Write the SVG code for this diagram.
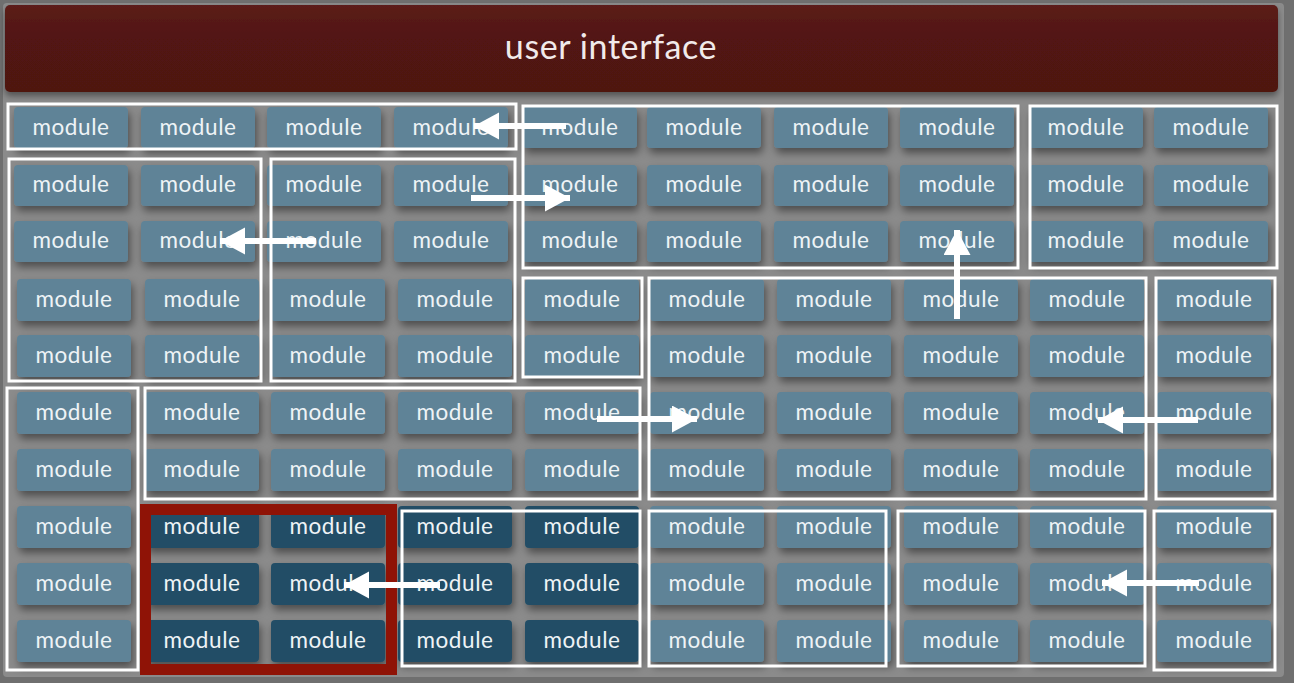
<svg xmlns="http://www.w3.org/2000/svg" width="1294" height="683" viewBox="0 0 1294 683">
<defs>
<filter id="sh" x="-20%" y="-30%" width="150%" height="190%">
<feDropShadow dx="2" dy="5" stdDeviation="4" flood-color="#000" flood-opacity="0.45"/>
</filter>
<filter id="shb" x="-5%" y="-20%" width="110%" height="160%">
<feDropShadow dx="0" dy="4" stdDeviation="3" flood-color="#000" flood-opacity="0.4"/>
</filter>
<linearGradient id="ui" x1="0" y1="0" x2="0" y2="1">
<stop offset="0" stop-color="#5c1d1a"/>
<stop offset="0.35" stop-color="#521612"/>
<stop offset="1" stop-color="#4f1511"/>
</linearGradient>
<marker id="ah" markerUnits="userSpaceOnUse" markerWidth="26" markerHeight="28" refX="25" refY="13.5" orient="auto">
<path d="M0,0 L25,13.5 L0,27 Z" fill="#fff"/>
</marker>
<style>
.m rect{rx:4px;ry:4px;filter:url(#sh)}
.lt rect{fill:#5f8397}
.dk rect{fill:#234d66}
.m text{font-family:Lato,"Noto Sans","Liberation Sans",sans-serif;font-size:22.5px;letter-spacing:0.6px;fill:#eef3f6;text-anchor:middle}
.box{fill:none;stroke:#fff;stroke-width:3}
.red{fill:none;stroke:#8f1306;stroke-width:11}
.ar{stroke:#fff;stroke-width:6;fill:none;marker-end:url(#ah)}
</style>
</defs>
<rect x="0" y="0" width="1294" height="683" fill="#6f6f6f"/>
<rect x="3" y="3" width="1281" height="674" rx="4" fill="#8b8b8b"/>
<g id="user-interface">
<rect x="5" y="5" width="1273" height="87" rx="5" fill="url(#ui)" filter="url(#shb)"/>
<text x="611" y="59" font-family="Lato,'Noto Sans','Liberation Sans',sans-serif" font-size="34" letter-spacing="0.6" fill="#f1eaea" text-anchor="middle">user interface</text>
</g>
<g id="modules">
<g id="m-r1c1" class="m lt"><rect x="14" y="107" width="114" height="41"/><text x="71" y="135">module</text></g>
<g id="m-r1c2" class="m lt"><rect x="141" y="107" width="114" height="41"/><text x="198" y="135">module</text></g>
<g id="m-r1c3" class="m lt"><rect x="267" y="107" width="114" height="41"/><text x="324" y="135">module</text></g>
<g id="m-r1c4" class="m lt"><rect x="394" y="107" width="114" height="41"/><text x="451" y="135">module</text></g>
<g id="m-r1c5" class="m lt"><rect x="523" y="107" width="114" height="41"/><text x="580" y="135">module</text></g>
<g id="m-r1c6" class="m lt"><rect x="647" y="107" width="114" height="41"/><text x="704" y="135">module</text></g>
<g id="m-r1c7" class="m lt"><rect x="774" y="107" width="114" height="41"/><text x="831" y="135">module</text></g>
<g id="m-r1c8" class="m lt"><rect x="900" y="107" width="114" height="41"/><text x="957" y="135">module</text></g>
<g id="m-r1c9" class="m lt"><rect x="1029" y="107" width="114" height="41"/><text x="1086" y="135">module</text></g>
<g id="m-r1c10" class="m lt"><rect x="1154" y="107" width="114" height="41"/><text x="1211" y="135">module</text></g>

<g id="m-r2c1" class="m lt"><rect x="14" y="165" width="114" height="41"/><text x="71" y="192">module</text></g>
<g id="m-r2c2" class="m lt"><rect x="141" y="165" width="114" height="41"/><text x="198" y="192">module</text></g>
<g id="m-r2c3" class="m lt"><rect x="267" y="165" width="114" height="41"/><text x="324" y="192">module</text></g>
<g id="m-r2c4" class="m lt"><rect x="394" y="165" width="114" height="41"/><text x="451" y="192">module</text></g>
<g id="m-r2c5" class="m lt"><rect x="523" y="165" width="114" height="41"/><text x="580" y="192">module</text></g>
<g id="m-r2c6" class="m lt"><rect x="647" y="165" width="114" height="41"/><text x="704" y="192">module</text></g>
<g id="m-r2c7" class="m lt"><rect x="774" y="165" width="114" height="41"/><text x="831" y="192">module</text></g>
<g id="m-r2c8" class="m lt"><rect x="900" y="165" width="114" height="41"/><text x="957" y="192">module</text></g>
<g id="m-r2c9" class="m lt"><rect x="1029" y="165" width="114" height="41"/><text x="1086" y="192">module</text></g>
<g id="m-r2c10" class="m lt"><rect x="1154" y="165" width="114" height="41"/><text x="1211" y="192">module</text></g>

<g id="m-r3c1" class="m lt"><rect x="14" y="221" width="114" height="41"/><text x="71" y="248">module</text></g>
<g id="m-r3c2" class="m lt"><rect x="141" y="221" width="114" height="41"/><text x="198" y="248">module</text></g>
<g id="m-r3c3" class="m lt"><rect x="267" y="221" width="114" height="41"/><text x="324" y="248">module</text></g>
<g id="m-r3c4" class="m lt"><rect x="394" y="221" width="114" height="41"/><text x="451" y="248">module</text></g>
<g id="m-r3c5" class="m lt"><rect x="523" y="221" width="114" height="41"/><text x="580" y="248">module</text></g>
<g id="m-r3c6" class="m lt"><rect x="647" y="221" width="114" height="41"/><text x="704" y="248">module</text></g>
<g id="m-r3c7" class="m lt"><rect x="774" y="221" width="114" height="41"/><text x="831" y="248">module</text></g>
<g id="m-r3c8" class="m lt"><rect x="900" y="221" width="114" height="41"/><text x="957" y="248">module</text></g>
<g id="m-r3c9" class="m lt"><rect x="1029" y="221" width="114" height="41"/><text x="1086" y="248">module</text></g>
<g id="m-r3c10" class="m lt"><rect x="1154" y="221" width="114" height="41"/><text x="1211" y="248">module</text></g>

<g id="m-r4c1" class="m lt"><rect x="17" y="279" width="114" height="42"/><text x="74" y="307">module</text></g>
<g id="m-r4c2" class="m lt"><rect x="145" y="279" width="114" height="42"/><text x="202" y="307">module</text></g>
<g id="m-r4c3" class="m lt"><rect x="271" y="279" width="114" height="42"/><text x="328" y="307">module</text></g>
<g id="m-r4c4" class="m lt"><rect x="398" y="279" width="114" height="42"/><text x="455" y="307">module</text></g>
<g id="m-r4c5" class="m lt"><rect x="525" y="279" width="114" height="42"/><text x="582" y="307">module</text></g>
<g id="m-r4c6" class="m lt"><rect x="650" y="279" width="114" height="42"/><text x="707" y="307">module</text></g>
<g id="m-r4c7" class="m lt"><rect x="777" y="279" width="114" height="42"/><text x="834" y="307">module</text></g>
<g id="m-r4c8" class="m lt"><rect x="904" y="279" width="114" height="42"/><text x="961" y="307">module</text></g>
<g id="m-r4c9" class="m lt"><rect x="1030" y="279" width="114" height="42"/><text x="1087" y="307">module</text></g>
<g id="m-r4c10" class="m lt"><rect x="1157" y="279" width="114" height="42"/><text x="1214" y="307">module</text></g>

<g id="m-r5c1" class="m lt"><rect x="17" y="335" width="114" height="42"/><text x="74" y="363">module</text></g>
<g id="m-r5c2" class="m lt"><rect x="145" y="335" width="114" height="42"/><text x="202" y="363">module</text></g>
<g id="m-r5c3" class="m lt"><rect x="271" y="335" width="114" height="42"/><text x="328" y="363">module</text></g>
<g id="m-r5c4" class="m lt"><rect x="398" y="335" width="114" height="42"/><text x="455" y="363">module</text></g>
<g id="m-r5c5" class="m lt"><rect x="525" y="335" width="114" height="42"/><text x="582" y="363">module</text></g>
<g id="m-r5c6" class="m lt"><rect x="650" y="335" width="114" height="42"/><text x="707" y="363">module</text></g>
<g id="m-r5c7" class="m lt"><rect x="777" y="335" width="114" height="42"/><text x="834" y="363">module</text></g>
<g id="m-r5c8" class="m lt"><rect x="904" y="335" width="114" height="42"/><text x="961" y="363">module</text></g>
<g id="m-r5c9" class="m lt"><rect x="1030" y="335" width="114" height="42"/><text x="1087" y="363">module</text></g>
<g id="m-r5c10" class="m lt"><rect x="1157" y="335" width="114" height="42"/><text x="1214" y="363">module</text></g>

<g id="m-r6c1" class="m lt"><rect x="17" y="392" width="114" height="42"/><text x="74" y="420">module</text></g>
<g id="m-r6c2" class="m lt"><rect x="145" y="392" width="114" height="42"/><text x="202" y="420">module</text></g>
<g id="m-r6c3" class="m lt"><rect x="271" y="392" width="114" height="42"/><text x="328" y="420">module</text></g>
<g id="m-r6c4" class="m lt"><rect x="398" y="392" width="114" height="42"/><text x="455" y="420">module</text></g>
<g id="m-r6c5" class="m lt"><rect x="525" y="392" width="114" height="42"/><text x="582" y="420">module</text></g>
<g id="m-r6c6" class="m lt"><rect x="650" y="392" width="114" height="42"/><text x="707" y="420">module</text></g>
<g id="m-r6c7" class="m lt"><rect x="777" y="392" width="114" height="42"/><text x="834" y="420">module</text></g>
<g id="m-r6c8" class="m lt"><rect x="904" y="392" width="114" height="42"/><text x="961" y="420">module</text></g>
<g id="m-r6c9" class="m lt"><rect x="1030" y="392" width="114" height="42"/><text x="1087" y="420">module</text></g>
<g id="m-r6c10" class="m lt"><rect x="1157" y="392" width="114" height="42"/><text x="1214" y="420">module</text></g>

<g id="m-r7c1" class="m lt"><rect x="17" y="449" width="114" height="42"/><text x="74" y="477">module</text></g>
<g id="m-r7c2" class="m lt"><rect x="145" y="449" width="114" height="42"/><text x="202" y="477">module</text></g>
<g id="m-r7c3" class="m lt"><rect x="271" y="449" width="114" height="42"/><text x="328" y="477">module</text></g>
<g id="m-r7c4" class="m lt"><rect x="398" y="449" width="114" height="42"/><text x="455" y="477">module</text></g>
<g id="m-r7c5" class="m lt"><rect x="525" y="449" width="114" height="42"/><text x="582" y="477">module</text></g>
<g id="m-r7c6" class="m lt"><rect x="650" y="449" width="114" height="42"/><text x="707" y="477">module</text></g>
<g id="m-r7c7" class="m lt"><rect x="777" y="449" width="114" height="42"/><text x="834" y="477">module</text></g>
<g id="m-r7c8" class="m lt"><rect x="904" y="449" width="114" height="42"/><text x="961" y="477">module</text></g>
<g id="m-r7c9" class="m lt"><rect x="1030" y="449" width="114" height="42"/><text x="1087" y="477">module</text></g>
<g id="m-r7c10" class="m lt"><rect x="1157" y="449" width="114" height="42"/><text x="1214" y="477">module</text></g>

<g id="m-r8c1" class="m lt"><rect x="17" y="506" width="114" height="42"/><text x="74" y="534">module</text></g>
<g id="m-r8c2" class="m dk"><rect x="145" y="506" width="114" height="42"/><text x="202" y="534">module</text></g>
<g id="m-r8c3" class="m dk"><rect x="271" y="506" width="114" height="42"/><text x="328" y="534">module</text></g>
<g id="m-r8c4" class="m dk"><rect x="398" y="506" width="114" height="42"/><text x="455" y="534">module</text></g>
<g id="m-r8c5" class="m dk"><rect x="525" y="506" width="114" height="42"/><text x="582" y="534">module</text></g>
<g id="m-r8c6" class="m lt"><rect x="650" y="506" width="114" height="42"/><text x="707" y="534">module</text></g>
<g id="m-r8c7" class="m lt"><rect x="777" y="506" width="114" height="42"/><text x="834" y="534">module</text></g>
<g id="m-r8c8" class="m lt"><rect x="904" y="506" width="114" height="42"/><text x="961" y="534">module</text></g>
<g id="m-r8c9" class="m lt"><rect x="1030" y="506" width="114" height="42"/><text x="1087" y="534">module</text></g>
<g id="m-r8c10" class="m lt"><rect x="1157" y="506" width="114" height="42"/><text x="1214" y="534">module</text></g>

<g id="m-r9c1" class="m lt"><rect x="17" y="563" width="114" height="42"/><text x="74" y="591">module</text></g>
<g id="m-r9c2" class="m dk"><rect x="145" y="563" width="114" height="42"/><text x="202" y="591">module</text></g>
<g id="m-r9c3" class="m dk"><rect x="271" y="563" width="114" height="42"/><text x="328" y="591">module</text></g>
<g id="m-r9c4" class="m dk"><rect x="398" y="563" width="114" height="42"/><text x="455" y="591">module</text></g>
<g id="m-r9c5" class="m dk"><rect x="525" y="563" width="114" height="42"/><text x="582" y="591">module</text></g>
<g id="m-r9c6" class="m lt"><rect x="650" y="563" width="114" height="42"/><text x="707" y="591">module</text></g>
<g id="m-r9c7" class="m lt"><rect x="777" y="563" width="114" height="42"/><text x="834" y="591">module</text></g>
<g id="m-r9c8" class="m lt"><rect x="904" y="563" width="114" height="42"/><text x="961" y="591">module</text></g>
<g id="m-r9c9" class="m lt"><rect x="1030" y="563" width="114" height="42"/><text x="1087" y="591">module</text></g>
<g id="m-r9c10" class="m lt"><rect x="1157" y="563" width="114" height="42"/><text x="1214" y="591">module</text></g>

<g id="m-r10c1" class="m lt"><rect x="17" y="620" width="114" height="42"/><text x="74" y="648">module</text></g>
<g id="m-r10c2" class="m dk"><rect x="145" y="620" width="114" height="42"/><text x="202" y="648">module</text></g>
<g id="m-r10c3" class="m dk"><rect x="271" y="620" width="114" height="42"/><text x="328" y="648">module</text></g>
<g id="m-r10c4" class="m dk"><rect x="398" y="620" width="114" height="42"/><text x="455" y="648">module</text></g>
<g id="m-r10c5" class="m dk"><rect x="525" y="620" width="114" height="42"/><text x="582" y="648">module</text></g>
<g id="m-r10c6" class="m lt"><rect x="650" y="620" width="114" height="42"/><text x="707" y="648">module</text></g>
<g id="m-r10c7" class="m lt"><rect x="777" y="620" width="114" height="42"/><text x="834" y="648">module</text></g>
<g id="m-r10c8" class="m lt"><rect x="904" y="620" width="114" height="42"/><text x="961" y="648">module</text></g>
<g id="m-r10c9" class="m lt"><rect x="1030" y="620" width="114" height="42"/><text x="1087" y="648">module</text></g>
<g id="m-r10c10" class="m lt"><rect x="1157" y="620" width="114" height="42"/><text x="1214" y="648">module</text></g>
</g>
<g id="groups">
<rect class="box" x="8" y="104" width="508" height="45"/>
<rect class="box" x="523" y="106" width="495" height="162"/>
<rect class="box" x="1030" y="106" width="247" height="162"/>
<rect class="box" x="9" y="159" width="252" height="222"/>
<rect class="box" x="271" y="159" width="244" height="222"/>
<rect class="box" x="523" y="278" width="119" height="99"/>
<rect class="box" x="649" y="278" width="497" height="221"/>
<rect class="box" x="1156" y="278" width="119" height="221"/>
<rect class="box" x="7" y="388" width="131" height="282"/>
<rect class="box" x="145" y="388" width="495" height="111"/>
<rect class="box" x="402" y="511" width="238" height="155"/>
<rect class="box" x="649" y="511" width="237" height="155"/>
<rect class="box" x="898" y="511" width="247" height="155"/>
<rect class="box" x="1154" y="511" width="121" height="159"/>
<rect class="red" x="145.5" y="509.5" width="246" height="160"/>
</g>
<g id="connectors">
<line class="ar" x1="566" y1="126" x2="474" y2="126"/>
<line class="ar" x1="471" y1="198" x2="570" y2="198"/>
<line class="ar" x1="316" y1="241" x2="220" y2="241"/>
<line class="ar" x1="957" y1="319" x2="957" y2="230"/>
<line class="ar" x1="597" y1="419" x2="697" y2="419"/>
<line class="ar" x1="1198" y1="420" x2="1098" y2="420"/>
<line class="ar" x1="440" y1="585" x2="344" y2="585"/>
<line class="ar" x1="1199" y1="583" x2="1102" y2="583"/>
</g>
</svg>
